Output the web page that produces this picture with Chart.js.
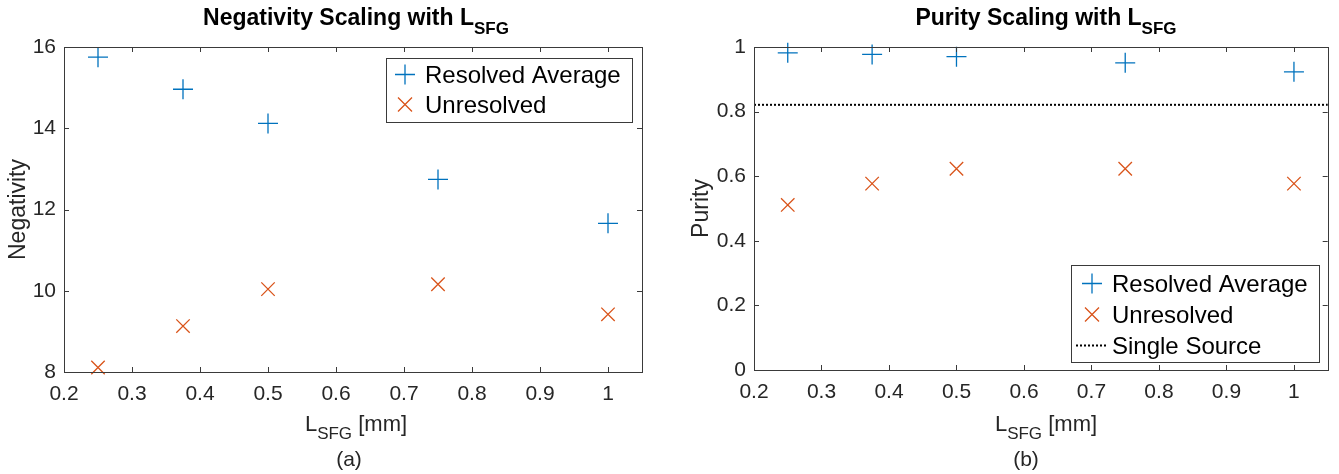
<!DOCTYPE html>
<html>
<head>
<meta charset="utf-8">
<script src="https://cdn.jsdelivr.net/npm/chart.js@4.4.0/dist/chart.umd.min.js"></script>
<style>
  html, body { margin: 0; padding: 0; background: #fff; }
  #wrap { position: relative; width: 1339px; height: 474px; }
  canvas { position: absolute; top: 0; }
  #neg { left: 0; }
  #pur { left: 680px; }
</style>
</head>
<body>
<div id="wrap">
  <canvas id="neg" width="680" height="474" style="width:680px;height:474px"></canvas>
  <canvas id="pur" width="659" height="474" style="width:659px;height:474px"></canvas>
</div>
<script>
// data
const lengthsMm = [0.25, 0.375, 0.5, 0.75, 1];
const negResolved = [15.75, 14.96, 14.12, 12.74, 11.66];
const negUnresolved = [8.11, 9.13, 10.04, 10.16, 9.42];
const purResolved = [0.982, 0.977, 0.970, 0.951, 0.923];
const purUnresolved = [0.511, 0.577, 0.623, 0.623, 0.577];
const singleSource = 0.821;

const xLimits = [0.2, 1.05];
const xTicks = [0.2, 0.3, 0.4, 0.5, 0.6, 0.7, 0.8, 0.9, 1];
const negLimits = [8, 16];
const negTicks = [8, 10, 12, 14, 16];
const purLimits = [0, 1];
const purTicks = [0, 0.2, 0.4, 0.6, 0.8, 1];

const FONT = "'Liberation Sans', Arial, Helvetica, sans-serif";
const AXIS = '#3a3a3a';
const TEXT = '#262626';
const BLUE = '#0072BD';
const ORANGE = '#D95319';

function points(xs, ys) {
  return xs.map((x, i) => ({ x: x, y: ys[i] }));
}

function drawParts(ctx, parts, cx, baseline) {
  let total = 0;
  const widths = parts.map(p => {
    ctx.font = p.font;
    const w = ctx.measureText(p.text).width;
    total += w;
    return w;
  });
  let x = cx - total / 2;
  ctx.textAlign = 'left';
  ctx.textBaseline = 'alphabetic';
  parts.forEach((p, i) => {
    ctx.font = p.font;
    ctx.fillText(p.text, x, baseline + (p.dy || 0));
    x += widths[i];
  });
}

function drawMarker(ctx, ds, x, y) {
  ctx.save();
  ctx.strokeStyle = ds.borderColor;
  ctx.lineWidth = 1.3;
  ctx.beginPath();
  if (ds.showLine) {
    ctx.lineWidth = 2;
    ctx.setLineDash([2, 2]);
    ctx.moveTo(x - 16, y);
    ctx.lineTo(x + 15, y);
  } else if (ds.pointStyle === 'cross') {
    ctx.moveTo(x - 10, y); ctx.lineTo(x + 10, y);
    ctx.moveTo(x, y - 10); ctx.lineTo(x, y + 10);
  } else {
    ctx.moveTo(x - 7, y - 7); ctx.lineTo(x + 7, y + 7);
    ctx.moveTo(x - 7, y + 7); ctx.lineTo(x + 7, y - 7);
  }
  ctx.stroke();
  ctx.restore();
}

function makeFrame(cfg) {
  return {
    id: 'matlabFrame',
    afterDatasetsDraw(chart) {
      const ctx = chart.ctx;
      const a = chart.chartArea;
      const xs = chart.scales.x, ys = chart.scales.y;
      ctx.save();
      ctx.strokeStyle = AXIS;
      ctx.lineWidth = 1;
      ctx.strokeRect(Math.round(a.left) + 0.5, Math.round(a.top) + 0.5,
        Math.round(a.right - a.left), Math.round(a.bottom - a.top));
      ctx.beginPath();
      xs.ticks.forEach(t => {
        const px = Math.round(xs.getPixelForValue(t.value)) + 0.5;
        ctx.moveTo(px, a.bottom); ctx.lineTo(px, a.bottom - 5);
        ctx.moveTo(px, a.top); ctx.lineTo(px, a.top + 5);
      });
      ys.ticks.forEach(t => {
        const py = Math.round(ys.getPixelForValue(t.value)) + 0.5;
        ctx.moveTo(a.left, py); ctx.lineTo(a.left + 5, py);
        ctx.moveTo(a.right, py); ctx.lineTo(a.right - 5, py);
      });
      ctx.stroke();

      ctx.fillStyle = '#000';
      drawParts(ctx, [
        { text: cfg.title, font: 'bold 23px ' + FONT },
        { text: 'SFG', font: 'bold 17px ' + FONT, dy: 9 }
      ], cfg.titleX, 25);
      ctx.fillStyle = TEXT;
      drawParts(ctx, [
        { text: 'L', font: '22px ' + FONT },
        { text: 'SFG', font: '17px ' + FONT, dy: 8 },
        { text: ' [mm]', font: '22px ' + FONT }
      ], cfg.labelX, 431);
      drawParts(ctx, [{ text: cfg.panel, font: '21px ' + FONT }], cfg.panelX, 466);
      ctx.restore();
    },
    afterDraw(chart) {
      const ctx = chart.ctx;
      const L = cfg.legend;
      ctx.save();
      ctx.fillStyle = '#fff';
      ctx.fillRect(L.box[0], L.box[1], L.box[2] - L.box[0], L.box[3] - L.box[1]);
      ctx.strokeStyle = AXIS;
      ctx.lineWidth = 1;
      ctx.strokeRect(L.box[0] + 0.5, L.box[1] + 0.5, L.box[2] - L.box[0], L.box[3] - L.box[1]);
      chart.data.datasets.forEach((ds, i) => {
        const base = L.rows[i];
        drawMarker(ctx, ds, L.markerX, base - 8.5);
        ctx.fillStyle = '#000';
        ctx.font = '24px ' + FONT;
        ctx.textAlign = 'left';
        ctx.textBaseline = 'alphabetic';
        ctx.fillText(ds.label, L.textX, base);
      });
      ctx.restore();
    }
  };
}

function scatterSet(label, data, style, color, radius) {
  return {
    label: label,
    data: data,
    showLine: false,
    pointStyle: style,
    pointRadius: radius,
    pointHoverRadius: radius,
    pointBorderWidth: 1.3,
    borderColor: color,
    backgroundColor: color,
    clip: false
  };
}

function makeOptions(yLimits, yTickValues, yTitle, yWidth, yTitlePad, pad) {
  return {
    responsive: false,
    maintainAspectRatio: false,
    animation: false,
    devicePixelRatio: 1,
    layout: { padding: pad },
    plugins: { legend: { display: false }, tooltip: { enabled: false } },
    scales: {
      x: {
        type: 'linear',
        min: xLimits[0],
        max: xLimits[1],
        grid: { display: false, drawTicks: false },
        border: { display: false },
        afterBuildTicks: s => { s.ticks = xTicks.map(v => ({ value: v })); },
        afterFit: s => { s.height = 40; },
        ticks: {
          padding: 10,
          color: TEXT,
          font: { family: FONT, size: 21 },
          callback: v => String(v),
          maxRotation: 0,
          autoSkip: false
        }
      },
      y: {
        type: 'linear',
        min: yLimits[0],
        max: yLimits[1],
        grid: { display: false, drawTicks: false },
        border: { display: false },
        afterBuildTicks: s => { s.ticks = yTickValues.map(v => ({ value: v })); },
        afterFit: s => { s.width = yWidth; },
        ticks: {
          padding: 8,
          color: TEXT,
          font: { family: FONT, size: 21 },
          callback: v => String(v),
          autoSkip: false
        },
        title: {
          display: true,
          text: yTitle,
          color: TEXT,
          font: { family: FONT, size: 23 },
          padding: { top: yTitlePad, bottom: 0 }
        }
      }
    }
  };
}

new Chart(document.getElementById('neg'), {
  type: 'scatter',
  data: {
    datasets: [
      scatterSet('Resolved Average', points(lengthsMm, negResolved), 'cross', BLUE, 10),
      scatterSet('Unresolved', points(lengthsMm, negUnresolved), 'crossRot', ORANGE, 9.5)
    ]
  },
  options: makeOptions(negLimits, negTicks, 'Negativity', 64, 5,
    { left: 0, right: 38, top: 47, bottom: 62 }),
  plugins: [makeFrame({
    title: 'Negativity Scaling with L',
    titleX: 356,
    labelX: 356,
    panel: '(a)',
    panelX: 349,
    legend: { box: [386, 58, 632, 122], rows: [83, 113], markerX: 405, textX: 425 }
  })]
});

new Chart(document.getElementById('pur'), {
  type: 'scatter',
  data: {
    datasets: [
      scatterSet('Resolved Average', points(lengthsMm, purResolved), 'cross', BLUE, 10),
      scatterSet('Unresolved', points(lengthsMm, purUnresolved), 'crossRot', ORANGE, 9.5),
      {
        label: 'Single Source',
        data: points(xLimits, [singleSource, singleSource]),
        showLine: true,
        pointRadius: 0,
        borderColor: '#000',
        borderWidth: 2,
        borderDash: [2, 2],
        clip: false
      }
    ]
  },
  options: makeOptions(purLimits, purTicks, 'Purity', 74, 8,
    { left: 0, right: 10, top: 47, bottom: 64 }),
  plugins: [makeFrame({
    title: 'Purity Scaling with L',
    titleX: 366,
    labelX: 366,
    panel: '(b)',
    panelX: 346,
    legend: { box: [391, 265, 639, 362], rows: [292, 323, 354], markerX: 412, textX: 432 }
  })]
});
</script>
</body>
</html>
